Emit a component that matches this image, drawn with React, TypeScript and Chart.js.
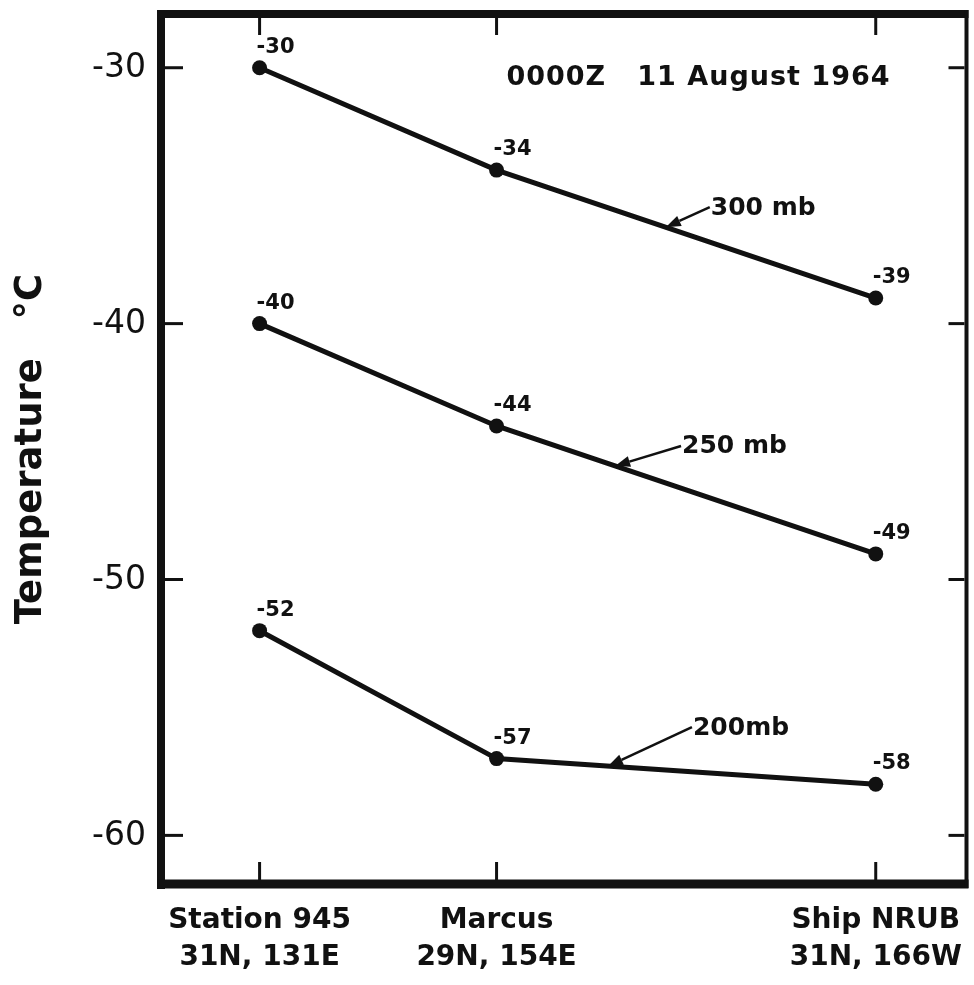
import React, { useEffect, useRef } from "react";
import { Chart, registerables } from "chart.js";

Chart.register(...registerables);

// ---- data ----
const stationNames = ["Station 945", "Marcus", "Ship NRUB"];
const stationCoords = ["31N, 131E", "29N, 154E", "31N, 166W"];
// relative distance along the section (horizontal placement of stations)
const stationPos = [0, 1, 2.6];
const levels = ["300 mb", "250 mb", "200mb"];
const temp300 = [-30, -34, -39];
const temp250 = [-40, -44, -49];
const temp200 = [-52, -57, -58];
const yTicks = [-60, -50, -40, -30];
const chartTitle = "0000Z   11 August 1964";
// annotation: series index, x where arrow touches line, and label
const annotations = [
  { series: 0, atX: 1.714, text: levels[0], dx: 44, dy: -20 },
  { series: 1, atX: 1.5, text: levels[1], dx: 66, dy: -20 },
  { series: 2, atX: 1.47, text: levels[2], dx: 84, dy: -39 },
];

const FONT = "'DejaVu Sans', 'Liberation Sans', sans-serif";
const INK = "#111";

function interp(xs: number[], ys: number[], x: number) {
  for (let i = 0; i < xs.length - 1; i++) {
    if (x >= xs[i] && x <= xs[i + 1]) {
      const t = (x - xs[i]) / (xs[i + 1] - xs[i]);
      return ys[i] + t * (ys[i + 1] - ys[i]);
    }
  }
  return ys[ys.length - 1];
}

const seriesList = [temp300, temp250, temp200];

const decorPlugin = {
  id: "decor",
  afterDraw(chart: any) {
    const ctx = chart.ctx;
    const { left, right, top, bottom } = chart.chartArea;
    const xs = chart.scales.x;
    const ys = chart.scales.y;
    ctx.save();
    ctx.strokeStyle = INK;
    ctx.fillStyle = INK;
    ctx.lineCap = "butt";
    // frame
    ctx.lineWidth = 8;
    ctx.beginPath();
    ctx.moveTo(left - 4, top);
    ctx.lineTo(right + 2, top);
    ctx.stroke();
    ctx.beginPath();
    ctx.moveTo(left, top - 4);
    ctx.lineTo(left, bottom + 5);
    ctx.stroke();
    ctx.lineWidth = 9;
    ctx.beginPath();
    ctx.moveTo(left - 4, bottom);
    ctx.lineTo(right + 2, bottom);
    ctx.stroke();
    ctx.lineWidth = 4;
    ctx.beginPath();
    ctx.moveTo(right, top - 4);
    ctx.lineTo(right, bottom + 4);
    ctx.stroke();
    // inward ticks + y tick labels
    ctx.lineWidth = 3;
    ctx.font = `33px ${FONT}`;
    ctx.textAlign = "right";
    ctx.textBaseline = "middle";
    yTicks.forEach((v) => {
      const py = ys.getPixelForValue(v);
      ctx.beginPath();
      ctx.moveTo(left + 4, py);
      ctx.lineTo(left + 22, py);
      ctx.stroke();
      ctx.beginPath();
      ctx.moveTo(right - 2, py);
      ctx.lineTo(right - 18, py);
      ctx.stroke();
      ctx.fillText(String(v), left - 15, py + 1);
    });
    stationPos.forEach((v) => {
      const px = xs.getPixelForValue(v);
      ctx.beginPath();
      ctx.moveTo(px, top + 4);
      ctx.lineTo(px, top + 21);
      ctx.stroke();
      ctx.beginPath();
      ctx.moveTo(px, bottom - 4);
      ctx.lineTo(px, bottom - 22);
      ctx.stroke();
    });
    // point value labels
    ctx.font = `bold 21px ${FONT}`;
    ctx.textAlign = "left";
    ctx.textBaseline = "alphabetic";
    chart.data.datasets.forEach((ds: any, di: number) => {
      const meta = chart.getDatasetMeta(di);
      meta.data.forEach((pt: any, i: number) => {
        const v = ds.data[i].y;
        ctx.fillText(String(v), pt.x - 3, pt.y - 15);
      });
    });
    // title
    ctx.font = `bold 27px ${FONT}`;
    (ctx as any).letterSpacing = "1px";
    ctx.textAlign = "right";
    ctx.textBaseline = "middle";
    ctx.fillText(chartTitle, right - 76, top + 64);
    (ctx as any).letterSpacing = "0px";
    // level annotations with arrows
    ctx.font = `bold 25px ${FONT}`;
    ctx.textAlign = "left";
    annotations.forEach((a) => {
      const yv = interp(stationPos, seriesList[a.series], a.atX);
      const tx = xs.getPixelForValue(a.atX);
      const ty = ys.getPixelForValue(yv);
      const sx = tx + a.dx;
      const sy = ty + a.dy;
      const ang = Math.atan2(ty - sy, tx - sx);
      const head = 15;
      const hw = 5.5;
      const bx = tx - head * Math.cos(ang);
      const by = ty - head * Math.sin(ang);
      ctx.lineWidth = 2.5;
      ctx.beginPath();
      ctx.moveTo(sx, sy);
      ctx.lineTo(bx, by);
      ctx.stroke();
      ctx.beginPath();
      ctx.moveTo(tx, ty);
      ctx.lineTo(bx + hw * Math.sin(ang), by - hw * Math.cos(ang));
      ctx.lineTo(bx - hw * Math.sin(ang), by + hw * Math.cos(ang));
      ctx.closePath();
      ctx.fill();
      ctx.fillText(a.text, sx + 1, sy + 1);
    });
    ctx.restore();
  },
};

export default function App() {
  const ref = useRef<HTMLCanvasElement | null>(null);
  useEffect(() => {
    if (!ref.current) return;
    const mk = (vals: number[]) => stationPos.map((x, i) => ({ x, y: vals[i] }));
    const dsStyle = {
      borderColor: INK,
      backgroundColor: INK,
      borderWidth: 5,
      pointRadius: 7.5,
      pointBackgroundColor: INK,
      pointBorderWidth: 0,
      fill: false,
      tension: 0,
    };
    const chart = new Chart(ref.current, {
      type: "line",
      data: {
        datasets: [
          { label: levels[0], data: mk(temp300), ...dsStyle },
          { label: levels[1], data: mk(temp250), ...dsStyle },
          { label: levels[2], data: mk(temp200), ...dsStyle },
        ],
      },
      options: {
        responsive: false,
        animation: false,
        events: [],
        layout: { padding: { top: 14, right: 4, left: 0, bottom: 0 } },
        plugins: {
          legend: { display: false },
          tooltip: { enabled: false },
          title: { display: false },
        },
        scales: {
          x: {
            type: "linear",
            min: -0.416,
            max: 2.983,
            grid: { display: false },
            border: { display: false },
            afterBuildTicks: (axis: any) => {
              axis.ticks = stationPos.map((v) => ({ value: v }));
            },
            afterFit: (scale: any) => {
              scale.height = 101;
              scale.paddingLeft = 0;
              scale.paddingRight = 0;
            },
            ticks: {
              autoSkip: false,
              maxRotation: 0,
              padding: 11,
              color: INK,
              font: { family: FONT, size: 28, weight: "bold", lineHeight: 1.3 },
              callback: (_v: any, i: number) => [stationNames[i], stationCoords[i]],
            },
          },
          y: {
            type: "linear",
            min: -61.9,
            max: -27.9,
            grid: { display: false },
            border: { display: false },
            afterBuildTicks: (axis: any) => {
              axis.ticks = yTicks.map((v) => ({ value: v }));
            },
            afterFit: (scale: any) => {
              scale.width = 161;
            },
            title: {
              display: true,
              text: "Temperature   °C",
              color: INK,
              font: { family: FONT, size: 37, weight: "bold", lineHeight: 1.2 },
              padding: { top: 9, bottom: 0 },
            },
            ticks: { display: false },
          },
        },
      },
      plugins: [decorPlugin],
    });
    return () => chart.destroy();
  }, []);
  return (
    <div style={{ position: "absolute", left: 0, top: 0, width: 974, height: 985, background: "#fff" }}>
      <canvas ref={ref} width={974} height={985} style={{ display: "block" }} />
    </div>
  );
}
